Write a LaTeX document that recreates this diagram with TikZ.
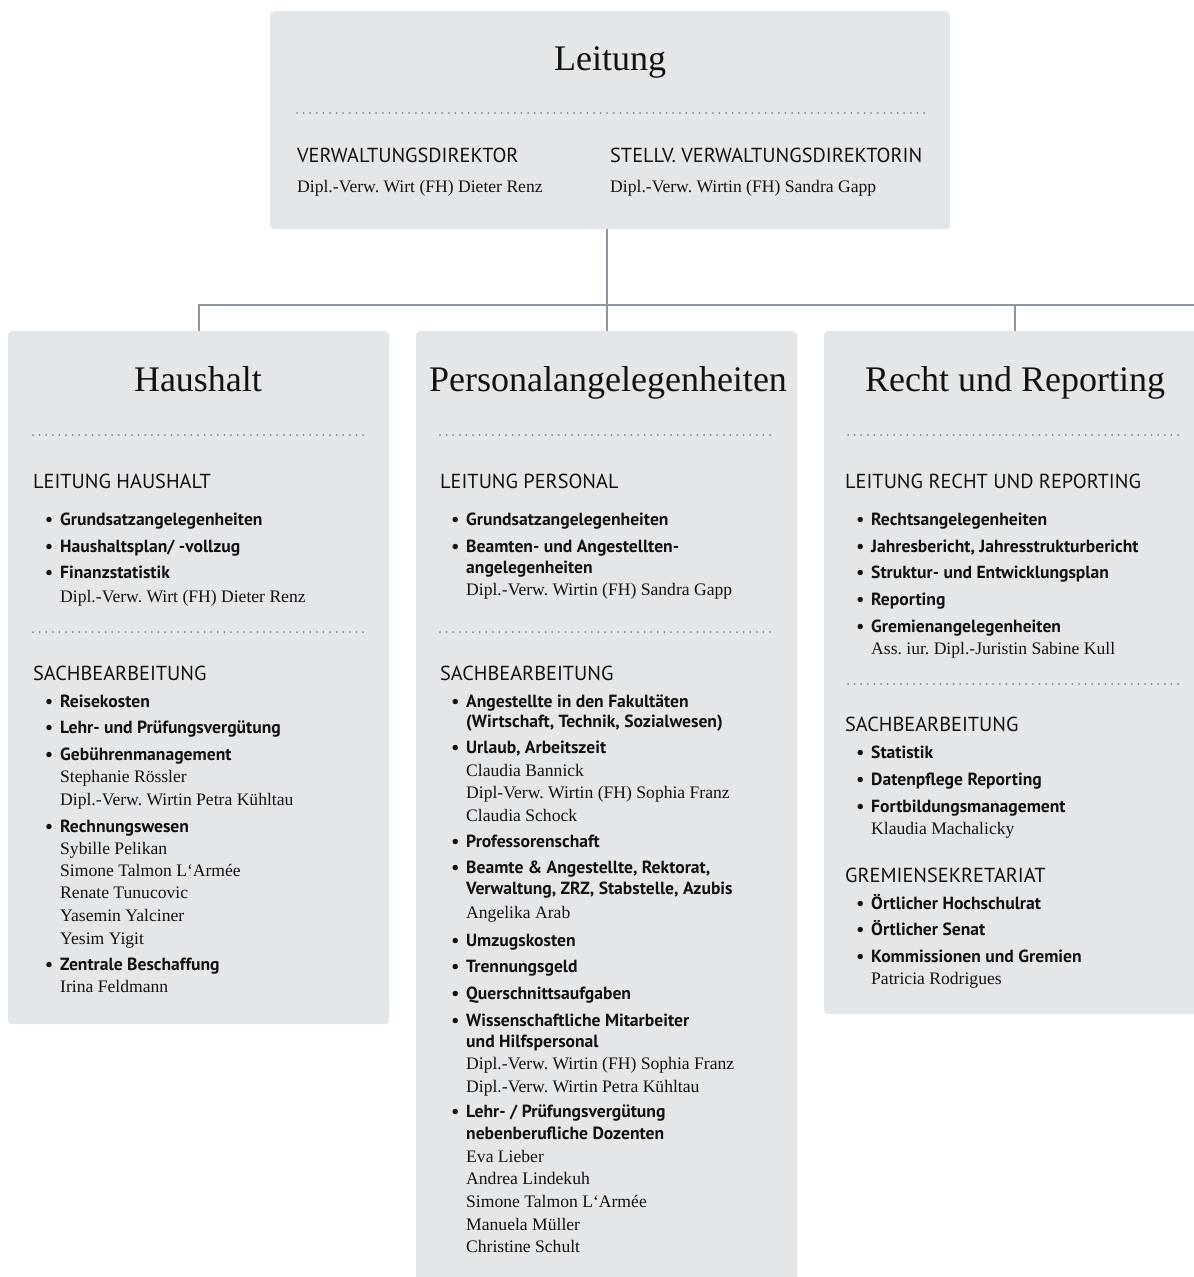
\documentclass[tikz,border=0pt]{standalone}
\usepackage{fontspec}
\setmainfont{Liberation Serif}
\newfontfamily\headsans{PT Sans}
\usetikzlibrary{positioning}
\frenchspacing

\definecolor{boxgray}{HTML}{E4E7EA}
\definecolor{linegray}{HTML}{8E979F}
\definecolor{dotgray}{HTML}{80868C}
\definecolor{ink}{HTML}{111111}

\tikzset{
  unitbox/.style={fill=boxgray, rounded corners=4pt, anchor=north west, inner sep=0pt},
  conn/.style={draw=linegray, line width=2pt},
  sep/.style={draw=dotgray, line width=2pt, line cap=round, dash pattern=on 0pt off 6.6pt},
  title/.style={anchor=base, inner sep=0pt, text=ink, font=\fontsize{36}{40}\selectfont},
  caps/.style={anchor=base west, inner sep=0pt, text=ink, font=\headsans\fontsize{20.3}{23}\selectfont},
  item/.style={anchor=base west, inner sep=0pt, text=ink, font=\headsans\bfseries\fontsize{17.6}{20}\selectfont,
    execute at begin node={\llap{\textbullet\hspace{7pt}}}},
  itemcont/.style={anchor=base west, inner sep=0pt, text=ink, font=\headsans\bfseries\fontsize{17.6}{20}\selectfont},
  person/.style={anchor=base west, inner sep=0pt, text=ink, font=\fontsize{17.6}{20}\selectfont}
}

\begin{document}
\begin{tikzpicture}[x=1pt, y=-1pt]
  \useasboundingbox (0,0) rectangle (1194,1277);

  % Boxes
  \node[unitbox, minimum width=680pt, minimum height=218pt] (leitung) at (270,11) {};
  \node[unitbox, minimum width=381pt, minimum height=693pt] (haushalt) at (8,331) {};
  \node[unitbox, minimum width=381pt, minimum height=960pt] (personal) at (416,331) {};
  \node[unitbox, minimum width=382pt, minimum height=683pt] (recht) at (824,331) {};

  % Connectors
  \coordinate (busend) at (1194,305);
  \draw[conn] (haushalt.north) |- (busend);
  \draw[conn] (personal.north) -- (personal.north |- leitung.south);
  \draw[conn] (recht.north) -- (recht.north |- busend);

  % Leitung
  \node[title] (leitung-title) at (610,70) {Leitung};
  \draw[sep] (297,113) -- (925,113);
  \node[caps] (vd) at (297,162) {VERWALTUNGSDIREKTOR};
  \node[caps] (svd) at (610,162) {STELLV. VERWALTUNGSDIREKTORIN};
  \node[person] (vd-name) at (297,192) {Dipl.-Verw. Wirt (FH) Dieter Renz};
  \node[person] (svd-name) at (610,192) {Dipl.-Verw. Wirtin (FH) Sandra Gapp};

  % Haushalt
  \node[title] (hh-title) at (198,391) {Haushalt};
  \draw[sep] (33,435) -- (365,435);
  \draw[sep] (33,632) -- (365,632);
  \node[caps] (hh-leitung) at (33,488) {LEITUNG HAUSHALT};
  \node[caps] (hh-sach) at (33,680) {SACHBEARBEITUNG};
  \foreach \y/\t in {525/Grundsatzangelegenheiten, 552/{Haushaltsplan/ -vollzug}, 578/Finanzstatistik,
      707/Reisekosten, 733/{Lehr- und Prüfungsvergütung}, 760/Gebührenmanagement,
      832/Rechnungswesen, 970/{Zentrale Beschaffung}}
    \node[item] (hh-item-\y) at (60,\y) {\t};
  \foreach \y/\t in {602/{Dipl.-Verw. Wirt (FH) Dieter Renz}, 782/{Stephanie Rössler},
      805/{Dipl.-Verw. Wirtin Petra Kühltau}, 854/{Sybille Pelikan}, 876/{Simone Talmon L‘Armée},
      898/{Renate Tunucovic}, 921/{Yasemin Yalciner}, 944/{Yesim Yigit}, 992/{Irina Feldmann}}
    \node[person] (hh-name-\y) at (60,\y) {\t};

  % Personalangelegenheiten
  \node[title] (pa-title) at (608,391) {Personalangelegenheiten};
  \draw[sep] (440,435) -- (773,435);
  \draw[sep] (440,632) -- (773,632);
  \node[caps] (pa-leitung) at (440,488) {LEITUNG PERSONAL};
  \node[caps] (pa-sach) at (440,680) {SACHBEARBEITUNG};
  \foreach \y/\t in {525/Grundsatzangelegenheiten, 552/{Beamten- und Angestellten-},
      707/{Angestellte in den Fakultäten}, 753/{Urlaub, Arbeitszeit}, 847/Professorenschaft,
      873/{Beamte \& Angestellte, Rektorat,}, 946/Umzugskosten, 972/Trennungsgeld,
      999/Querschnittsaufgaben, 1026/{Wissenschaftliche Mitarbeiter}, 1117/{Lehr- / Prüfungsvergütung}}
    \node[item] (pa-item-\y) at (466,\y) {\t};
  \foreach \y/\t in {573/angelegenheiten, 727/{(Wirtschaft, Technik, Sozialwesen)},
      894/{Verwaltung, ZRZ, Stabstelle, Azubis}, 1047/{und Hilfspersonal}, 1139/{nebenberufliche Dozenten}}
    \node[itemcont] (pa-cont-\y) at (466,\y) {\t};
  \foreach \y/\t in {595/{Dipl.-Verw. Wirtin (FH) Sandra Gapp}, 776/{Claudia Bannick},
      798/{Dipl-Verw. Wirtin (FH) Sophia Franz}, 821/{Claudia Schock}, 918/{Angelika Arab},
      1069/{Dipl.-Verw. Wirtin (FH) Sophia Franz}, 1092/{Dipl.-Verw. Wirtin Petra Kühltau},
      1162/{Eva Lieber}, 1184/{Andrea Lindekuh}, 1207/{Simone Talmon L‘Armée},
      1230/{Manuela Müller}, 1252/{Christine Schult}}
    \node[person] (pa-name-\y) at (466,\y) {\t};

  % Recht und Reporting
  \node[title] (rr-title) at (1015,391) {Recht und Reporting};
  \draw[sep] (848,435) -- (1180,435);
  \draw[sep] (848,684) -- (1180,684);
  \node[caps] (rr-leitung) at (845,488) {LEITUNG RECHT UND REPORTING};
  \node[caps] (rr-sach) at (845,731) {SACHBEARBEITUNG};
  \node[caps] (rr-gremien) at (845,882) {GREMIENSEKRETARIAT};
  \foreach \y/\t in {525/Rechtsangelegenheiten, 552/{Jahresbericht, Jahresstrukturbericht},
      578/{Struktur- und Entwicklungsplan}, 605/Reporting, 632/Gremienangelegenheiten,
      758/Statistik, 785/{Datenpflege Reporting}, 812/Fortbildungsmanagement,
      909/{Örtlicher Hochschulrat}, 935/{Örtlicher Senat}, 962/{Kommissionen und Gremien}}
    \node[item] (rr-item-\y) at (871,\y) {\t};
  \foreach \y/\t in {654/{Ass. iur. Dipl.-Juristin Sabine Kull}, 834/{Klaudia Machalicky},
      984/{Patricia Rodrigues}}
    \node[person] (rr-name-\y) at (871,\y) {\t};
\end{tikzpicture}
\end{document}
